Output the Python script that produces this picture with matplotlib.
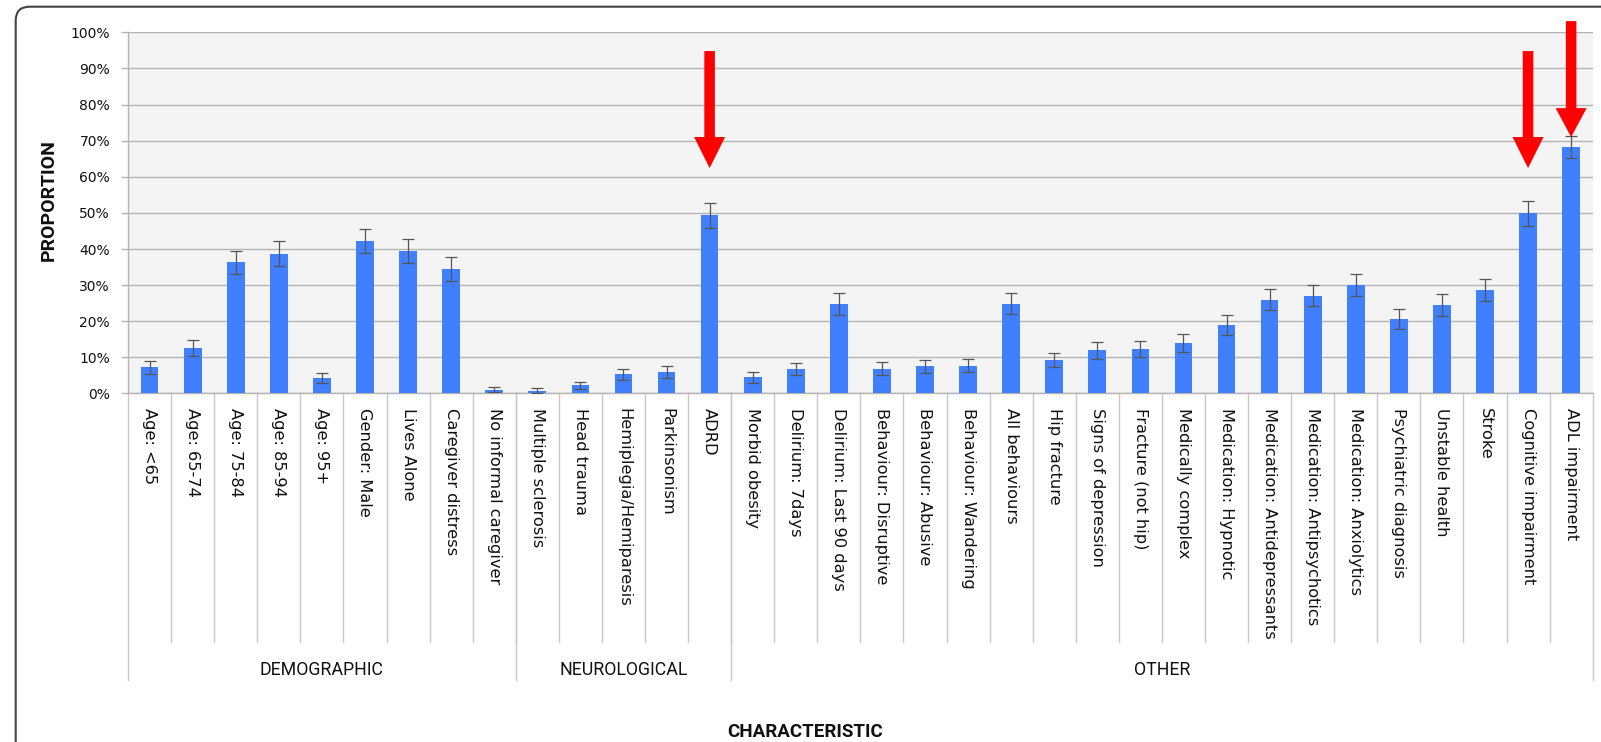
import numpy as np
import matplotlib
matplotlib.use("Agg")
import matplotlib.pyplot as plt
from matplotlib.patches import FancyArrow, FancyBboxPatch
from matplotlib.transforms import IdentityTransform

# data (percent)
categories = [
    "Age: <65", "Age: 65-74", "Age: 75-84", "Age: 85-94", "Age: 95+",
    "Gender: Male", "Lives Alone", "Caregiver distress", "No informal caregiver",
    "Multiple sclerosis", "Head trauma", "Hemiplegia/Hemiparesis", "Parkinsonism", "ADRD",
    "Morbid obesity", "Delirium: 7days", "Delirium: Last 90 days", "Behaviour: Disruptive",
    "Behaviour: Abusive", "Behaviour: Wandering", "All behaviours", "Hip fracture",
    "Signs of depression", "Fracture (not hip)", "Medically complex", "Medication: Hypnotic",
    "Medication: Antidepressants", "Medication: Antipsychotics", "Medication: Anxiolytics",
    "Psychiatric diagnosis", "Unstable health", "Stroke", "Cognitive impairment",
    "ADL impairment",
]
proportion = [7.2, 12.5, 36.3, 38.7, 4.2, 42.1, 39.4, 34.5, 1.1,
              0.8, 2.3, 5.3, 5.9, 49.3,
              4.5, 6.8, 24.8, 6.8, 7.5, 7.7, 24.8, 9.2, 11.9, 12.3, 14.1, 18.9,
              26.0, 27.1, 30.1, 20.7, 24.5, 28.6, 49.9, 68.2]
error = [1.8, 2.2, 3.2, 3.4, 1.4, 3.3, 3.3, 3.3, 0.7,
         0.6, 1.0, 1.5, 1.7, 3.4,
         1.5, 1.7, 3.0, 1.8, 1.7, 1.8, 2.9, 2.0, 2.4, 2.2, 2.5, 2.7,
         3.0, 3.0, 3.1, 2.8, 3.1, 3.1, 3.4, 3.1]
groups = ["DEMOGRAPHIC", "NEUROLOGICAL", "OTHER"]
group_sizes = [9, 5, 20]
yticks = list(range(0, 101, 10))

# red arrows: category, shaft top, tip (percent)
arrow_cats = ["ADRD", "Cognitive impairment", "ADL impairment"]
arrow_top = [94.8, 94.8, 103.1]
arrow_tip = [62.4, 62.4, 71.0]
arrow_head = [8.6, 8.6, 8.0]

BAR = "#4080ff"
GRID = "#b4b4b4"
narrow = ["Roboto", "DejaVu Sans"]

fig = plt.figure(figsize=(16.01, 7.42), dpi=100)
ax = fig.add_axes([0.0800, 0.4697, 0.9148, 0.4868])
ax.set_facecolor("#f4f4f4")

x = np.arange(len(categories))
ax.bar(x, proportion, width=0.41, color=BAR, zorder=3)
ax.errorbar(x, proportion, yerr=error, fmt="none", ecolor="#555555",
            elinewidth=0.9, capsize=4.5, capthick=0.9, zorder=4)

ax.set_xlim(-0.5, len(categories) - 0.5)
ax.set_ylim(0, 100)
ax.set_yticks(yticks)
ax.set_yticklabels([f"{t}%" for t in yticks], fontsize=10, color="#111111")
ax.yaxis.grid(True, color=GRID, lw=1.0, zorder=0)
ax.tick_params(axis="y", length=5, width=1.0, color=GRID, pad=8)
ax.set_xticks(x)
ax.set_xticklabels(categories, rotation=-90, fontsize=11.7, color="#111111")
ax.tick_params(axis="x", length=0, pad=10.4)
for s in ["top", "right"]:
    ax.spines[s].set_visible(False)
for s in ["left", "bottom"]:
    ax.spines[s].set_color(GRID)
    ax.spines[s].set_linewidth(1.0)

# separators below the axis
tr = ax.get_xaxis_transform()
for b in range(1, len(categories)):
    ax.plot([b - 0.5, b - 0.5], [0, -0.687], transform=tr, color="#c8c8c8",
            lw=1.0, clip_on=False)
edges = np.concatenate([[0], np.cumsum(group_sizes)]) - 0.5
for e in edges:
    ax.plot([e, e], [0, -0.793], transform=tr, color="#c8c8c8", lw=1.0, clip_on=False)
for g, a, b in zip(groups, edges[:-1], edges[1:]):
    ax.text((a + b) / 2, -0.7655, g, transform=tr, ha="center", va="center",
            fontsize=12.8, family=narrow, color="#111111")

# arrows
for c, top, tip, hl in zip(arrow_cats, arrow_top, arrow_tip, arrow_head):
    i = categories.index(c)
    ax.add_patch(FancyArrow(i, top, 0, tip - top, width=0.245, head_width=0.72,
                            head_length=hl, length_includes_head=True,
                            color="#ff0000", lw=0, zorder=6, clip_on=False))

fig.text(0.0303, 0.731, "PROPORTION", rotation=90, ha="center", va="center",
         fontsize=14, fontweight="bold", family=narrow, color="#111111")
fig.text(0.503, 0.0135, "CHARACTERISTIC", ha="center", va="center",
         fontsize=13.5, fontweight="bold", family=narrow, color="#111111")

# frame round the whole figure (cut off at right and bottom)
fig.patches.append(FancyBboxPatch((15.7, -60), 1700, 742 - 6.7 + 60,
                                  boxstyle="round,pad=0,rounding_size=14",
                                  transform=IdentityTransform(), fill=False,
                                  ec="#444444", lw=1.5, figure=fig))

fig.savefig("out.png", dpi=100)
